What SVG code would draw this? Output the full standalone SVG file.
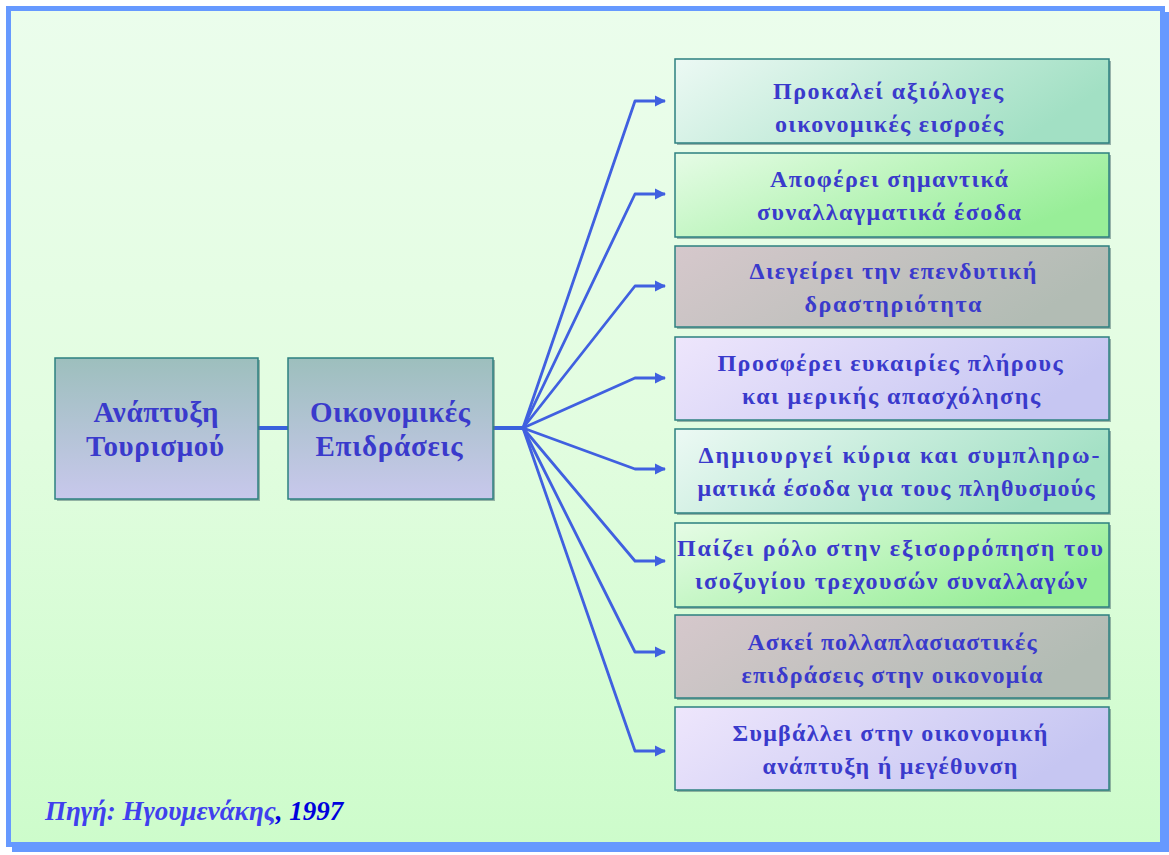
<svg xmlns="http://www.w3.org/2000/svg" width="1169" height="855" viewBox="0 0 1169 855">
<defs>
<linearGradient id="bg" x1="0" y1="0" x2="0" y2="1">
<stop offset="0" stop-color="#ebfdec"/>
<stop offset="0.5" stop-color="#e2fde0"/>
<stop offset="1" stop-color="#cdfccb"/>
</linearGradient>
<linearGradient id="gLeft" x1="0" y1="0" x2="0" y2="1">
<stop offset="0" stop-color="#9dbfbd"/>
<stop offset="1" stop-color="#c8c8ec"/>
</linearGradient>
<linearGradient id="gTeal" x1="0" y1="0" x2="1" y2="0.3">
<stop offset="0" stop-color="#ecf9f4"/>
<stop offset="1" stop-color="#a2e0c4"/>
</linearGradient>
<linearGradient id="gGreen" x1="0" y1="0" x2="1" y2="0.5">
<stop offset="0" stop-color="#e6fce6"/>
<stop offset="1" stop-color="#98ee98"/>
</linearGradient>
<linearGradient id="gGrey" x1="0" y1="0" x2="1" y2="0.3">
<stop offset="0" stop-color="#d6c8cc"/>
<stop offset="1" stop-color="#b2bcb4"/>
</linearGradient>
<linearGradient id="gLav" x1="0" y1="0" x2="1" y2="0.3">
<stop offset="0" stop-color="#eee6fc"/>
<stop offset="1" stop-color="#c6c6f2"/>
</linearGradient>
<marker id="ah" viewBox="0 0 10 10" refX="9" refY="5" markerWidth="4" markerHeight="4" orient="auto" markerUnits="strokeWidth">
<path d="M0,0 L10,5 L0,10 Z" fill="#4060e0"/>
</marker>
</defs>
<style>
.shadow{fill:#557777;opacity:0.55}
.box{stroke:#2d8080;stroke-width:1.5}
.t{font-family:"Liberation Serif","Times New Roman",serif;font-weight:bold;fill:#3a3acc;text-anchor:middle}
.tr{font-size:24px}
.tl{font-size:29px}
.conn{fill:none;stroke:#4060e0;stroke-width:2.8;stroke-linejoin:round}
.thick{fill:none;stroke:#3a62dd;stroke-width:4}
.src{font-family:"Liberation Serif","Times New Roman",serif;font-style:italic;font-weight:bold;font-size:27px}
</style>
<rect x="12" y="12" width="1157" height="840" fill="#6699ff"/>
<rect x="8.5" y="8.5" width="1154" height="836" fill="url(#bg)" stroke="#6699ff" stroke-width="5"/>

<g id="connectors">
<line class="thick" x1="258" y1="428" x2="288" y2="428"/>
<line class="thick" x1="493" y1="428" x2="524" y2="428"/>
<path class="conn" d="M523,428 L635,101 L665,101" marker-end="url(#ah)"/>
<path class="conn" d="M523,428 L635,194 L665,194" marker-end="url(#ah)"/>
<path class="conn" d="M523,428 L635,286 L665,286" marker-end="url(#ah)"/>
<path class="conn" d="M523,428 L635,378 L665,378" marker-end="url(#ah)"/>
<path class="conn" d="M523,428 L635,469 L665,469" marker-end="url(#ah)"/>
<path class="conn" d="M523,428 L635,561 L665,561" marker-end="url(#ah)"/>
<path class="conn" d="M523,428 L635,652 L665,652" marker-end="url(#ah)"/>
<path class="conn" d="M523,428 L635,751 L665,751" marker-end="url(#ah)"/>
</g>

<g id="n-tourism">
<rect class="shadow" x="57" y="360" width="203" height="141"/>
<rect class="box" x="55" y="358" width="203" height="141" fill="url(#gLeft)"/>
<text class="t tl" x="156" y="422" textLength="125" lengthAdjust="spacing">Ανάπτυξη</text>
<text class="t tl" x="155" y="456" textLength="138" lengthAdjust="spacing">Τουρισμού</text>
</g>
<g id="n-economic">
<rect class="shadow" x="290" y="360" width="205" height="141"/>
<rect class="box" x="288" y="358" width="205" height="141" fill="url(#gLeft)"/>
<text class="t tl" x="390" y="422" textLength="160" lengthAdjust="spacing">Οικονομικές</text>
<text class="t tl" x="389" y="456" textLength="147" lengthAdjust="spacing">Επιδράσεις</text>
</g>

<g id="r1">
<rect class="shadow" x="677" y="61" width="434" height="84"/>
<rect class="box" x="675" y="59" width="434" height="84" fill="url(#gTeal)"/>
<text class="t tr" x="888" y="99" textLength="230" lengthAdjust="spacing">Προκαλεί αξιόλογες</text>
<text class="t tr" x="889" y="132" textLength="228" lengthAdjust="spacing">οικονομικές εισροές</text>
</g>
<g id="r2">
<rect class="shadow" x="677" y="155" width="434" height="84"/>
<rect class="box" x="675" y="153" width="434" height="84" fill="url(#gGreen)"/>
<text class="t tr" x="889" y="187" textLength="238" lengthAdjust="spacing">Αποφέρει σημαντικά</text>
<text class="t tr" x="889" y="220" textLength="264" lengthAdjust="spacing">συναλλαγματικά έσοδα</text>
</g>
<g id="r3">
<rect class="shadow" x="677" y="248" width="434" height="81"/>
<rect class="box" x="675" y="246" width="434" height="81" fill="url(#gGrey)"/>
<text class="t tr" x="893" y="279" textLength="287" lengthAdjust="spacing">Διεγείρει την επενδυτική</text>
<text class="t tr" x="893" y="312" textLength="177" lengthAdjust="spacing">δραστηριότητα</text>
</g>
<g id="r4">
<rect class="shadow" x="677" y="339" width="434" height="83"/>
<rect class="box" x="675" y="337" width="434" height="83" fill="url(#gLav)"/>
<text class="t tr" x="890" y="371" textLength="345" lengthAdjust="spacing">Προσφέρει ευκαιρίες πλήρους</text>
<text class="t tr" x="891" y="404" textLength="298" lengthAdjust="spacing">και μερικής απασχόλησης</text>
</g>
<g id="r5">
<rect class="shadow" x="677" y="431" width="434" height="84"/>
<rect class="box" x="675" y="429" width="434" height="84" fill="url(#gTeal)"/>
<text class="t tr" x="899" y="463" textLength="401" lengthAdjust="spacing">Δημιουργεί κύρια και συμπληρω-</text>
<text class="t tr" x="896" y="496" textLength="397" lengthAdjust="spacing">ματικά έσοδα για τους πληθυσμούς</text>
</g>
<g id="r6">
<rect class="shadow" x="677" y="525" width="434" height="84"/>
<rect class="box" x="675" y="523" width="434" height="84" fill="url(#gGreen)"/>
<text class="t tr" x="890" y="556" textLength="426" lengthAdjust="spacing">Παίζει ρόλο στην εξισορρόπηση του</text>
<text class="t tr" x="891" y="589" textLength="392" lengthAdjust="spacing">ισοζυγίου τρεχουσών συναλλαγών</text>
</g>
<g id="r7">
<rect class="shadow" x="677" y="617" width="434" height="83"/>
<rect class="box" x="675" y="615" width="434" height="83" fill="url(#gGrey)"/>
<text class="t tr" x="892" y="650" textLength="289" lengthAdjust="spacing">Ασκεί πολλαπλασιαστικές</text>
<text class="t tr" x="892" y="683" textLength="301" lengthAdjust="spacing">επιδράσεις στην οικονομία</text>
</g>
<g id="r8">
<rect class="shadow" x="677" y="709" width="434" height="83"/>
<rect class="box" x="675" y="707" width="434" height="83" fill="url(#gLav)"/>
<text class="t tr" x="890" y="741" textLength="315" lengthAdjust="spacing">Συμβάλλει στην οικονομική</text>
<text class="t tr" x="890" y="774" textLength="255" lengthAdjust="spacing">ανάπτυξη ή μεγέθυνση</text>
</g>

<text class="src" x="45" y="820"><tspan fill="#4040ee">Πηγή: Ηγουμενάκης</tspan><tspan fill="#0000dd">, 1997</tspan></text>
</svg>
